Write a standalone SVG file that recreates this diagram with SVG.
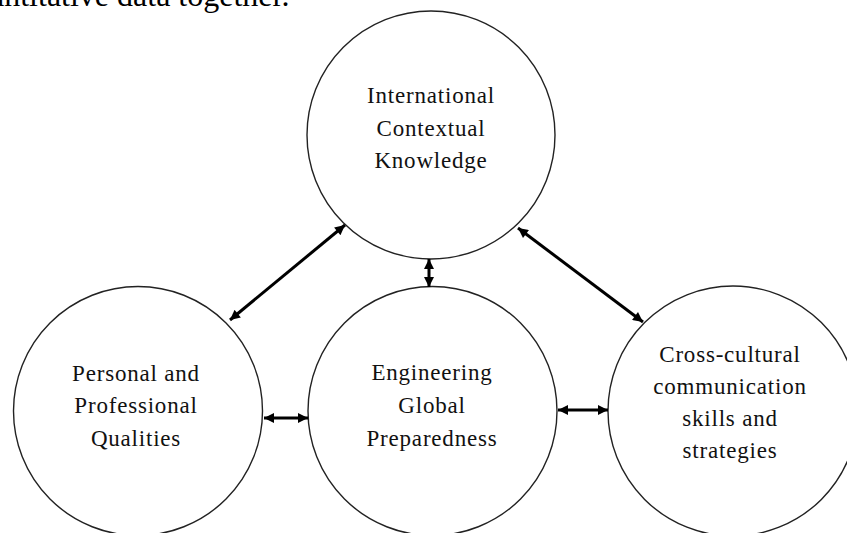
<svg xmlns="http://www.w3.org/2000/svg" width="847" height="533" viewBox="0 0 847 533">
  <style>
    .node circle { fill: #ffffff; stroke: #222222; stroke-width: 1.4; }
    .node text { font-family: "Liberation Serif", "Times New Roman", serif; font-size: 23px; letter-spacing: 0.8px; fill: #111111; text-anchor: middle; }
    .link { stroke: #000000; stroke-width: 3; fill: none; marker-start: url(#head); marker-end: url(#head); }
    .caption { font-family: "Liberation Serif", "Times New Roman", serif; font-size: 32px; fill: #000000; }
  </style>
  <defs>
    <marker id="head" viewBox="0 0 10 10" refX="10" refY="5" markerWidth="11" markerHeight="10" markerUnits="userSpaceOnUse" orient="auto-start-reverse">
      <path d="M0,0 L10,5 L0,10 z" fill="#000000"/>
    </marker>
  </defs>
  <rect width="847" height="533" fill="#ffffff"/>

  <!-- last line of the running paragraph above the figure, cut by the top edge -->
  <text class="caption" x="-10" y="6">antitative data together.</text>

  <g id="international-contextual-knowledge" class="node">
    <circle cx="431" cy="135" r="124"/>
    <text x="431" y="103">International</text>
    <text x="431" y="136">Contextual</text>
    <text x="431" y="168">Knowledge</text>
  </g>

  <g id="personal-professional-qualities" class="node">
    <circle cx="138" cy="411" r="124.5"/>
    <text x="136" y="381">Personal and</text>
    <text x="136" y="413">Professional</text>
    <text x="136" y="446">Qualities</text>
  </g>

  <g id="engineering-global-preparedness" class="node">
    <circle cx="432.5" cy="411" r="124.5"/>
    <text x="432" y="380">Engineering</text>
    <text x="432" y="413">Global</text>
    <text x="432" y="446">Preparedness</text>
  </g>

  <g id="cross-cultural-communication" class="node">
    <circle cx="733" cy="411" r="125"/>
    <text x="730" y="362">Cross-cultural</text>
    <text x="730" y="394">communication</text>
    <text x="730" y="426">skills and</text>
    <text x="730" y="458">strategies</text>
  </g>

  <g id="connectors">
    <line class="link" x1="230" y1="320" x2="345" y2="225"/>
    <line class="link" x1="518" y1="228" x2="643" y2="322"/>
    <line class="link" x1="429" y1="259" x2="429" y2="287"/>
    <line class="link" x1="264" y1="418" x2="308" y2="418"/>
    <line class="link" x1="558" y1="410" x2="608" y2="410"/>
  </g>
</svg>
